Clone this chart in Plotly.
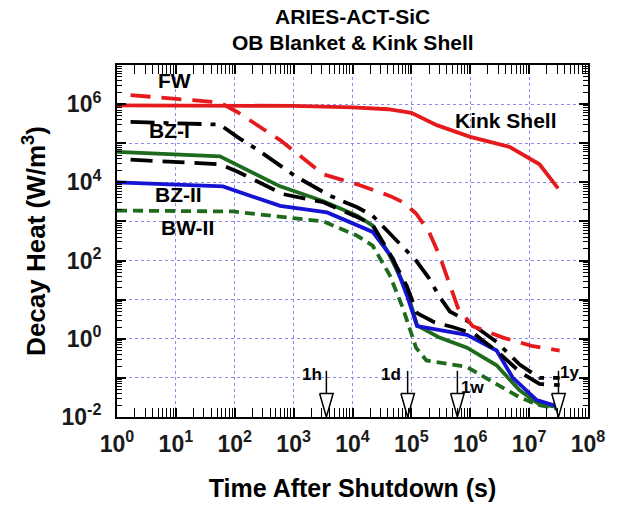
import math
import plotly.graph_objects as go

# ---------------- data ----------------
kink_t = [1, 100, 1e3, 1e4, 4e4, 1e5, 2.7e5, 1e6, 4.7e6, 1.5e7, 3.1e7]
kink_q = [9.3e5, 9.3e5, 9e5, 8.3e5, 7.4e5, 6e5, 2.9e5, 1.45e5, 8e4, 2.9e4, 7e3]

fw_t = [1.7, 56, 110, 204, 590, 3.2e3, 1.2e4, 4.3e4, 7.2e4, 1.2e5, 2e5, 3e5, 4.5e5, 6.2e5, 1.1e6, 3.6e6, 1.1e7, 3.3e7]
fw_q = [1.7e6, 1.1e6, 6.3e5, 3.5e5, 1.2e5, 1.6e4, 8.9e3, 4.5e3, 3.1e3, 1.6e3, 540, 134, 23, 6.1, 2.1, 1.07, 0.66, 0.5]

bz1a_t = [1.7, 56, 110, 240, 1.1e3, 4.2e3, 1.2e4, 2.2e4, 1.2e5, 2e5, 3e5, 4.5e5, 8.8e5, 2.8e6, 6.9e6, 1.5e7, 3.3e7]
bz1a_q = [3.5e5, 3e5, 1.45e5, 6.9e4, 1.4e4, 4.5e3, 2.3e3, 1.4e3, 100, 35, 12, 5, 2.9, 0.83, 0.22, 0.1, 0.1]

bz1b_t = [1.7, 56, 110, 660, 3.2e3, 1.2e4, 2.2e4, 4.3e4, 8.4e4, 1.25e5, 2.5e5, 5e5, 1.2e6, 3e6, 7e6, 1.5e7, 3.3e7]
bz1b_q = [3.8e4, 2.9e4, 1.9e4, 5e3, 3.1e3, 1.3e3, 820, 150, 22, 4.5, 2.6, 2.0, 1.3, 0.45, 0.14, 0.07, 0.065]

bz2g_t = [1, 56, 590, 3.2e3, 1.2e4, 2.2e4, 4.3e4, 8.4e4, 1.25e5, 3e5, 8.8e5, 2.8e6, 6.9e6, 1.5e7, 3.3e7]
bz2g_q = [6e4, 4.6e4, 7.9e3, 3.3e3, 1.4e3, 780, 134, 16.6, 2.2, 1.07, 0.59, 0.21, 0.048, 0.021, 0.018]

bz2b_t = [1, 63, 590, 3.7e3, 2.2e4, 4.9e4, 8.4e4, 1.25e5, 8.8e5, 2.8e6, 5.3e6, 1.35e7, 3.3e7]
bz2b_q = [1e4, 7.9e3, 2.5e3, 1.7e3, 540, 110, 13, 2.1, 1.26, 0.5, 0.1, 0.027, 0.018]

bw2_t = [1, 93, 3.2e3, 1.2e4, 2.2e4, 4.3e4, 7.2e4, 1.2e5, 1.8e5, 8.8e5, 2.8e6, 6.9e6, 1.5e7, 3.3e7]
bw2_q = [1.9e3, 1.8e3, 1e3, 430, 240, 42, 6, 0.59, 0.28, 0.19, 0.069, 0.032, 0.02, 0.016]

mark_names = ["1h", "1d", "1w", "1y"]
mark_times = [3600, 86400, 604800, 3.15e7]

x_tick_exps = list(range(0, 9))
y_label_exps = [-2, 0, 2, 4, 6]
y_grid_exps = [-1, 1, 3, 5]

RED = "#e41a1c"
GREEN = "#1e6b1e"
BLUE = "#1414d2"
BLACK = "#000000"
W = 3.8
FONT = "Liberation Sans, Arial, sans-serif"

fig = go.Figure()

def add(t, q, color, dash):
    fig.add_trace(go.Scatter(x=t, y=q, mode="lines",
                             line=dict(color=color, width=W, dash=dash),
                             showlegend=False, hoverinfo="skip"))

add(bw2_t, bw2_q, GREEN, "10px,6px")
add(bz2g_t, bz2g_q, GREEN, "solid")
add(bz2b_t, bz2b_q, BLUE, "solid")
add(bz1b_t, bz1b_q, BLACK, "22px,10px")
add(bz1a_t, bz1a_q, BLACK, "24px,9px,5px,9px")
add(fw_t, fw_q, RED, "20px,11px")
add(kink_t, kink_q, RED, "solid")

# time markers: shaft + open arrow head
for name, t in zip(mark_names, mark_times):
    fig.add_trace(go.Scatter(x=[t, t], y=[10 ** -0.82, 10 ** -1.45], mode="lines",
                             line=dict(color="black", width=1.5),
                             showlegend=False, hoverinfo="skip"))
    f = 10 ** 0.115
    fig.add_trace(go.Scatter(x=[t / f, t, t * f, t / f], y=[10 ** -1.40, 10 ** -2, 10 ** -1.40, 10 ** -1.40],
                             mode="lines", line=dict(color="black", width=1.5),
                             fill="toself", fillcolor="white",
                             showlegend=False, hoverinfo="skip", cliponaxis=False))

axis_common = dict(
    type="log", showline=True, linecolor="black", linewidth=2, mirror="allticks",
    ticks="inside", ticklen=9, tickwidth=1.5, tickcolor="black",
    showgrid=True, gridcolor="#8c8cf0", gridwidth=1, griddash="dot",
    zeroline=False,
    tickfont=dict(family=FONT, size=23, color="#1a1a1a"),
)

fig.update_xaxes(**axis_common, range=[0, 8],
                 tickvals=[10 ** e for e in x_tick_exps],
                 ticktext=["<b>10<sup>%d</sup></b>" % e for e in x_tick_exps],
                 ticklabelstandoff=5,
                 minor=dict(ticks="inside", ticklen=5, tickcolor="black", tickwidth=1,
                            tickvals=[m * 10 ** e for e in range(0, 8) for m in range(2, 10)],
                            showgrid=False),
                 title=dict(text="<b>Time After Shutdown (s)</b>",
                            font=dict(family=FONT, size=25, color="black"),
                            standoff=24))
fig.update_yaxes(**axis_common, range=[-2, 7],
                 tickvals=[10 ** e for e in y_label_exps],
                 ticktext=["<b>10<sup>%d</sup></b>" % e for e in y_label_exps],
                 ticklabelstandoff=9,
                 minor=dict(ticks="inside", ticklen=5, tickcolor="black", tickwidth=1,
                            tickvals=[m * 10 ** e for e in range(-2, 7) for m in range(2, 10)],
                            showgrid=False),
                 title=dict(text="<b>Decay Heat (W/m<sup>3</sup>)</b>",
                            font=dict(family=FONT, size=26, color="black"),
                            standoff=8))

# odd-decade grid lines / major ticks on an overlaid unlabeled axis
fig.update_layout(yaxis2=dict(
    type="log", range=[-2, 7], overlaying="y", side="left", anchor="x",
    showline=False, mirror="allticks", ticks="inside", ticklen=9, tickwidth=1.5, tickcolor="black",
    showgrid=True, gridcolor="#8c8cf0", gridwidth=1, griddash="dot",
    zeroline=False, showticklabels=False,
    tickvals=[10 ** e for e in y_grid_exps],
))
fig.add_trace(go.Scatter(x=[None], y=[None], yaxis="y2", showlegend=False, hoverinfo="skip"))

LBL = dict(family=FONT, size=21, color="black")
labels = [("FW", 0.98, 6.61), ("BZ-I", 0.90, 5.32), ("BZ-II", 1.05, 3.70),
          ("BW-II", 1.19, 2.84), ("Kink Shell", 6.60, 5.59)]
for txt, lx, ly in labels:
    fig.add_annotation(x=lx, y=ly, xref="x", yref="y", text="<b>%s</b>" % txt,
                       showarrow=False, font=LBL)

mlbl = [(-0.25, 0.0), (-0.28, 0.0), (0.26, -0.33), (0.19, 0.05)]
for (name, t), (dx, dy) in zip(zip(mark_names, mark_times), mlbl):
    fig.add_annotation(x=math.log10(t) + dx, y=-0.91 + dy, xref="x", yref="y",
                       text="<b>%s</b>" % name, showarrow=False,
                       font=dict(family=FONT, size=17, color="black"))

# two-line title
for txt, py in [("ARIES-ACT-SiC", 16), ("OB Blanket & Kink Shell", 42)]:
    fig.add_annotation(x=0.5, y=(420 - py) / 355.0, xref="paper", yref="paper",
                       xanchor="center", yanchor="middle", showarrow=False,
                       text="<b>%s</b>" % txt, font=dict(family=FONT, size=21, color="black"))

fig.update_layout(
    width=625, height=510,
    margin=dict(l=117, r=37, t=65, b=90),
    paper_bgcolor="white", plot_bgcolor="white",
)

fig.write_html("out.html")
